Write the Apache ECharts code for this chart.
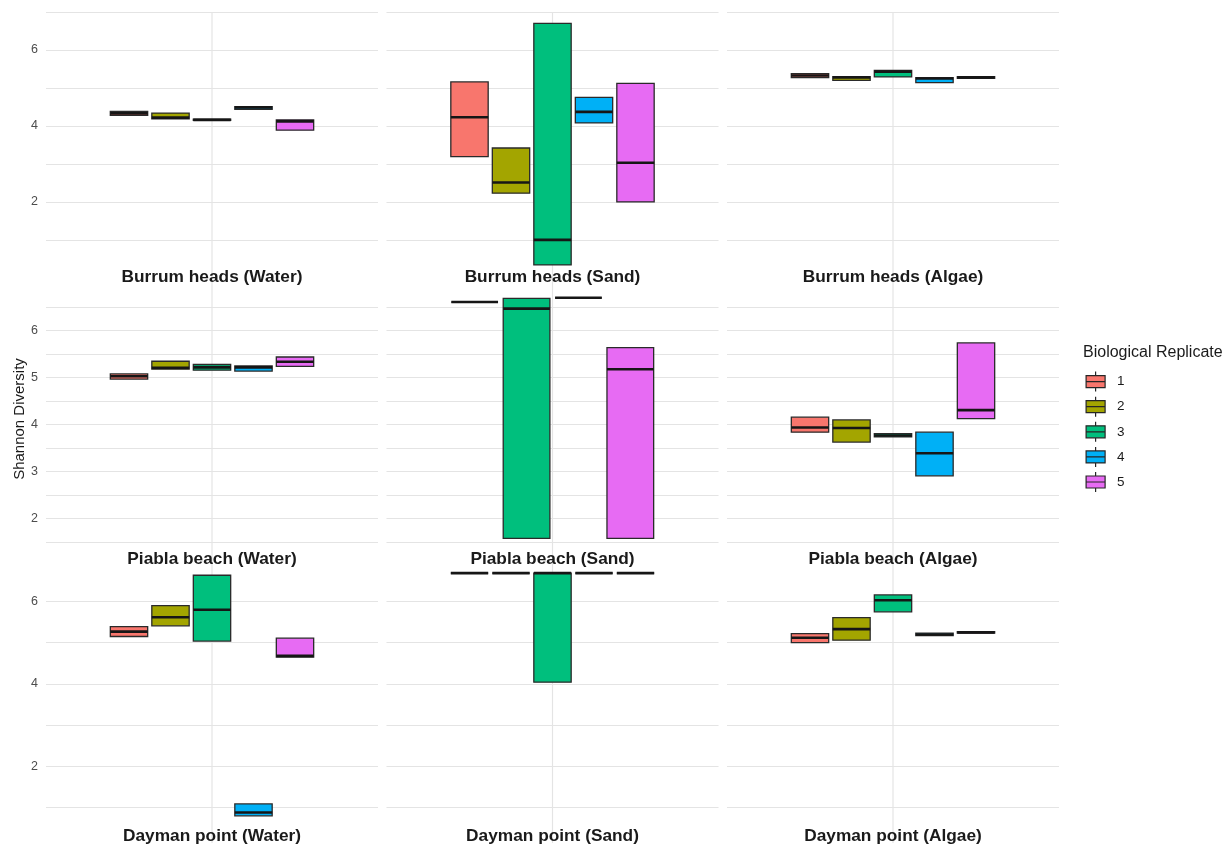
<!DOCTYPE html>
<html>
<head>
<meta charset="utf-8">
<script src="https://cdn.jsdelivr.net/npm/echarts@6/dist/echarts.min.js"></script>
<style>
  html, body { margin: 0; padding: 0; background: #ffffff; }
  #chart { width: 1232px; height: 847px; }
</style>
</head>
<body>
<div id="chart"></div>
<script>
// Biological replicates, sites and habitats of the facet grid
const replicates = ['1', '2', '3', '4', '5'];
const sites = ['Burrum heads', 'Piabla beach', 'Dayman point'];
const habitats = ['Water', 'Sand', 'Algae'];

// Shannon diversity per replicate: [lower hinge, median, upper hinge]; null = no samples
const burrumWater = [[4.28, 4.33, 4.38], [4.19, 4.22, 4.34], [4.15, 4.16, 4.18], [4.44, 4.49, 4.51], [3.89, 4.12, 4.16]];
const burrumSand  = [[3.19, 4.23, 5.16], [2.23, 2.51, 3.42], [0.34, 1.00, 6.70], [4.08, 4.37, 4.75], [2.00, 3.03, 5.12]];
const burrumAlgae = [[5.27, 5.33, 5.38], [5.20, 5.28, 5.30], [5.29, 5.43, 5.46], [5.14, 5.25, 5.27], [5.25, 5.28, 5.30]];
const piablaWater = [[4.97, 5.03, 5.08], [5.18, 5.21, 5.35], [5.16, 5.22, 5.28], [5.14, 5.22, 5.25], [5.24, 5.34, 5.44]];
const piablaSand  = [[6.61, 6.61, 6.61], null, [1.58, 6.47, 6.69], [6.70, 6.70, 6.70], [1.58, 5.18, 5.64]];
const piablaAlgae = [[3.84, 3.94, 4.16], [3.63, 3.93, 4.10], [3.74, 3.77, 3.81], [2.91, 3.39, 3.84], [4.13, 4.31, 5.74]];
const daymanWater = [[5.15, 5.27, 5.39], [5.41, 5.62, 5.90], [5.04, 5.80, 6.64], [0.79, 0.87, 1.08], [4.65, 4.68, 5.11]];
const daymanSand  = [[6.69, 6.69, 6.69], [6.69, 6.69, 6.69], [4.04, 6.69, 6.69], [6.69, 6.69, 6.69], [6.69, 6.69, 6.69]];
const daymanAlgae = [[5.00, 5.12, 5.22], [5.06, 5.33, 5.61], [5.75, 6.03, 6.16], [5.17, 5.20, 5.23], [5.23, 5.25, 5.27]];

// y range, gridline values and labelled ticks for each row of panels
const rowRanges = [[-0.24, 7.0], [0.97, 6.93], [0.13, 6.84]];
const rowGridLines = [[1, 2, 3, 4, 5, 6, 7], [1.5, 2, 2.5, 3, 3.5, 4, 4.5, 5, 5.5, 6, 6.5], [1, 2, 3, 4, 5, 6]];
const rowTickLabels = [[2, 4, 6], [2, 3, 4, 5, 6], [2, 4, 6]];

const panels = [
  burrumWater, burrumSand, burrumAlgae,
  piablaWater, piablaSand, piablaAlgae,
  daymanWater, daymanSand, daymanAlgae
];

const colors = ['#F8766D', '#A3A500', '#00BF7D', '#00B0F6', '#E76BF3'];
const FONT = '"Liberation Sans", Arial, Helvetica, sans-serif';
const GRID_COLOR = '#e4e4e4';

// panel frame layout (pixels)
const colLeft = [46, 386.5, 727];
const panelWidth = 332;
const rowTop = [12, 287, 567];
const rowHeight = [275, 280, 276];
const stripY = [277, 559, 836];

// discrete x: one slot spanning [-0.6, 0.6]; the dodge group takes 0.75 of it
const DODGE = 0.75;

function renderBox(params, api) {
  const cx = api.value(0);
  const lo = api.value(1), med = api.value(2), hi = api.value(3);
  const hw = api.value(4);
  const tl = api.coord([cx - hw, hi]);
  const br = api.coord([cx + hw, lo]);
  const m1 = api.coord([cx - hw, med]);
  const m2 = api.coord([cx + hw, med]);
  return {
    type: 'group',
    children: [
      {
        type: 'rect',
        shape: { x: tl[0], y: tl[1], width: br[0] - tl[0], height: br[1] - tl[1] },
        style: { fill: api.visual('color'), stroke: '#2a2a2a', lineWidth: 1.3 }
      },
      {
        type: 'line',
        shape: { x1: m1[0], y1: m1[1], x2: m2[0], y2: m2[1] },
        style: { stroke: '#161616', lineWidth: 2.6 }
      }
    ]
  };
}

// vertical major gridline through the centre of the x slot, full panel height
function renderCentreLine(params, api) {
  const top = api.coord([api.value(0), api.value(2)]);
  const bottom = api.coord([api.value(0), api.value(1)]);
  return {
    type: 'line',
    shape: { x1: top[0], y1: top[1], x2: bottom[0], y2: bottom[1] },
    style: { stroke: GRID_COLOR, lineWidth: 1.2 }
  };
}

const grids = [], xAxes = [], yAxes = [], series = [], titles = [];

panels.forEach(function (panel, p) {
  const r = Math.floor(p / 3), c = p % 3;
  grids.push({ left: colLeft[c], top: rowTop[r], width: panelWidth, height: rowHeight[r] });

  xAxes.push({
    gridIndex: p, type: 'value', min: -0.6, max: 0.6,
    axisLine: { show: false },
    axisTick: { show: false },
    axisLabel: { show: false },
    splitLine: { show: false }
  });

  yAxes.push({
    gridIndex: p, type: 'value', min: rowRanges[r][0], max: rowRanges[r][1],
    axisLine: { show: false },
    axisTick: { show: false, customValues: rowGridLines[r] },
    axisLabel: {
      show: c === 0, customValues: rowTickLabels[r],
      color: '#4d4d4d', fontSize: 12.5, fontFamily: FONT, margin: 8
    },
    splitLine: { show: true, lineStyle: { color: GRID_COLOR, width: 1.2 } }
  });

  series.push({
    type: 'custom',
    xAxisIndex: p,
    yAxisIndex: p,
    z: 1,
    silent: true,
    renderItem: renderCentreLine,
    data: [[0, rowRanges[r][0], rowRanges[r][1]]]
  });

  // dodge the replicates that are present in this panel
  const present = [];
  panel.forEach(function (v, i) { if (v) present.push(i); });
  const n = present.length;
  const slot = DODGE / n;
  present.forEach(function (i, k) {
    const v = panel[i];
    const center = (k - (n - 1) / 2) * slot;
    series.push({
      type: 'custom',
      name: replicates[i],
      xAxisIndex: p,
      yAxisIndex: p,
      z: 3,
      itemStyle: { color: colors[i] },
      renderItem: renderBox,
      silent: true,
      data: [[center, v[0], v[1], v[2], slot * 0.45]]
    });
  });

  titles.push({
    text: sites[r] + ' (' + habitats[c] + ')',
    left: colLeft[c] + panelWidth / 2,
    top: stripY[r],
    textAlign: 'center',
    textVerticalAlign: 'middle',
    padding: 0,
    textStyle: { fontFamily: FONT, fontSize: 17.3, fontWeight: 'bold', color: '#1a1a1a' }
  });
});

titles.push({
  text: 'Biological Replicate',
  left: 1083, top: 353,
  textAlign: 'left', textVerticalAlign: 'middle',
  padding: 0,
  textStyle: { fontFamily: FONT, fontSize: 16, fontWeight: 'normal', color: '#1a1a1a' }
});

const chart = echarts.init(document.getElementById('chart'), null, { renderer: 'canvas' });
chart.setOption({
  animation: false,
  backgroundColor: '#ffffff',
  title: titles,
  grid: grids,
  xAxis: xAxes,
  yAxis: yAxes,
  legend: {
    data: replicates,
    orient: 'vertical',
    left: 1085.5,
    top: 371,
    itemWidth: 33,
    itemHeight: 20,
    itemGap: 3.9,
    padding: 0,
    icon: 'path://M9.5,0V4M9.5,16V20M0,4H19V16H0ZM0,10H19',
    itemStyle: { borderColor: '#262626', borderWidth: 1.2 },
    textStyle: { fontFamily: FONT, fontSize: 13.5, color: '#1a1a1a' },
    selectedMode: false
  },
  graphic: [{
    type: 'text',
    x: 20, y: 419,
    rotation: Math.PI / 2,
    style: {
      text: 'Shannon Diversity',
      font: '15px ' + FONT,
      fill: '#1a1a1a',
      textAlign: 'center',
      textVerticalAlign: 'middle'
    }
  }],
  series: series
});
</script>
</body>
</html>
